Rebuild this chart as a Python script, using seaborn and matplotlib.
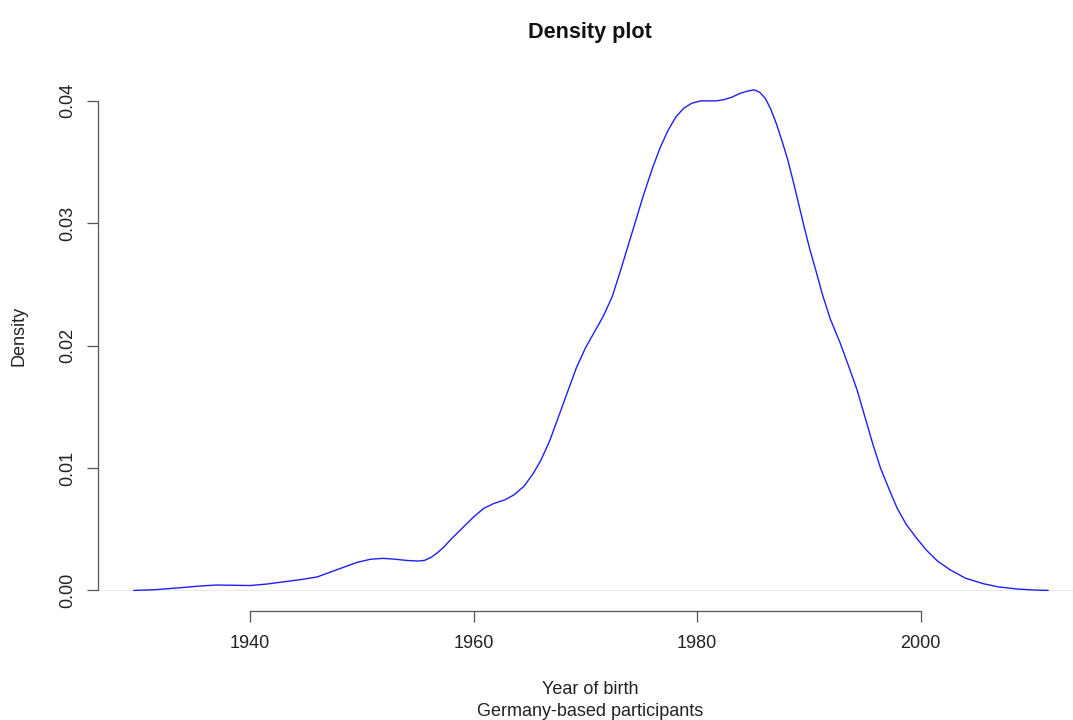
import matplotlib
matplotlib.use("Agg")
import matplotlib.pyplot as plt
import seaborn as sns
import pandas as pd

# Values
year = [1929.6, 1931.5, 1933.5, 1935.5, 1937.0, 1938.5, 1940.0, 1941.5, 1943.0,
        1944.5, 1946.0, 1947.2, 1948.4, 1949.6, 1950.8, 1951.9, 1953.0, 1954.0,
        1955.0, 1955.6, 1956.2, 1956.8, 1957.4, 1958.0, 1959.0, 1960.0, 1960.9, 1961.8,
        1962.8, 1963.6, 1964.5, 1965.3, 1966.0, 1966.8, 1967.6, 1968.4, 1969.2,
        1970.0, 1970.8, 1971.6, 1972.4, 1973.1, 1973.8, 1974.5, 1975.2, 1976.0,
        1976.7, 1977.4, 1978.1, 1978.8, 1979.5, 1980.3, 1981.0, 1981.7, 1982.4,
        1983.1, 1983.8, 1984.5, 1985.1, 1985.6, 1986.1, 1986.6, 1987.1, 1987.6,
        1988.1, 1988.6, 1989.1, 1989.6, 1990.1, 1990.6, 1991.2, 1991.9, 1992.8,
        1993.6, 1994.3, 1995.0, 1995.7, 1996.4, 1997.2, 1997.9, 1998.7, 1999.6,
        2000.5, 2001.5, 2002.6, 2004.0, 2005.6, 2007.0, 2008.6, 2010.0, 2011.4]
density = [0.0, 0.00006, 0.0002, 0.00036, 0.00044, 0.00042, 0.0004, 0.00052, 0.0007,
           0.00088, 0.0011, 0.0015, 0.0019, 0.0023, 0.00255, 0.00262, 0.00255, 0.00245,
           0.00240, 0.00245, 0.0027, 0.0031, 0.0036, 0.0042, 0.0051, 0.0060, 0.0067, 0.0071,
           0.0074, 0.0078, 0.0085, 0.0095, 0.0106, 0.0122, 0.0142, 0.0162, 0.0182,
           0.0198, 0.0211, 0.0224, 0.0240, 0.0260, 0.0281, 0.0302, 0.0323, 0.0345,
           0.0362, 0.0376, 0.0387, 0.0394, 0.0398, 0.0400, 0.0400, 0.0400, 0.0401,
           0.0403, 0.0406, 0.0408, 0.0409, 0.0407, 0.0402, 0.0393, 0.0381, 0.0367,
           0.0352, 0.0334, 0.0315, 0.0296, 0.0278, 0.0262, 0.0242, 0.0222, 0.0202,
           0.0182, 0.0164, 0.0142, 0.0120, 0.0100, 0.0082, 0.0067, 0.0054, 0.0043,
           0.0033, 0.0024, 0.0017, 0.0010, 0.00055, 0.00028, 0.00012, 0.00004, 0.0]

x_ticks = [1940, 1960, 1980, 2000]
y_ticks = [0.00, 0.01, 0.02, 0.03, 0.04]
y_tick_labels = ["0.00", "0.01", "0.02", "0.03", "0.04"]

sns.set_theme(style="white")
plt.rcParams["font.family"] = ["Liberation Sans", "DejaVu Sans"]

df = pd.DataFrame({"year": year, "density": density})

fig = plt.figure(figsize=(10.73, 7.2), dpi=100)
W, H = 1073, 720
ax = fig.add_axes([97.5 / W, (H - 610.5) / H, (W - 97.5) / W, (610.5 - 69.8) / H])

ax.axhline(0, color="#e6e6e6", lw=0.6, zorder=1)
sns.lineplot(data=df, x="year", y="density", ax=ax, color="#1f1ff5", lw=1.0,
             sort=False, estimator=None, zorder=3)

ax.set_xlim(1926.36, 2013.62)
ax.set_ylim(-0.00164, 0.04254)

for s in ["top", "right"]:
    ax.spines[s].set_visible(False)
for s in ["left", "bottom"]:
    ax.spines[s].set_color("#555555")
    ax.spines[s].set_linewidth(0.9)
ax.spines["left"].set_bounds(0, 0.04)
ax.spines["bottom"].set_bounds(1940, 2000)

ax.set_xticks(x_ticks)
ax.set_xticklabels([str(t) for t in x_ticks])
ax.set_yticks(y_ticks)
ax.set_yticklabels(y_tick_labels)
ax.tick_params(axis="both", direction="out", length=8, width=0.9, color="#555555",
               labelsize=13, labelcolor="#222222")
ax.tick_params(axis="x", pad=9.8, bottom=True)
ax.tick_params(axis="y", pad=7.3, left=True)
for lab in ax.get_yticklabels():
    lab.set_rotation(90)
    lab.set_va("center")
    lab.set_ha("right")

ax.set_xlabel("Year of birth\nGermany-based participants", fontsize=13,
              color="#222222", linespacing=1.42)
ax.xaxis.set_label_coords((590 - 97.5) / 975.5, -(681 - 610.5) / 540.7)
ax.set_ylabel("Density", fontsize=13, color="#222222")
ax.yaxis.set_label_coords(-(97.5 - 28) / 975.5, (610.5 - 336) / 540.7)

ax.set_title("Density plot", fontsize=15.6, fontweight="bold", color="#111111",
             x=(590 - 97.5) / 975.5, pad=23)

fig.savefig("out.png", dpi=100, facecolor="white")
